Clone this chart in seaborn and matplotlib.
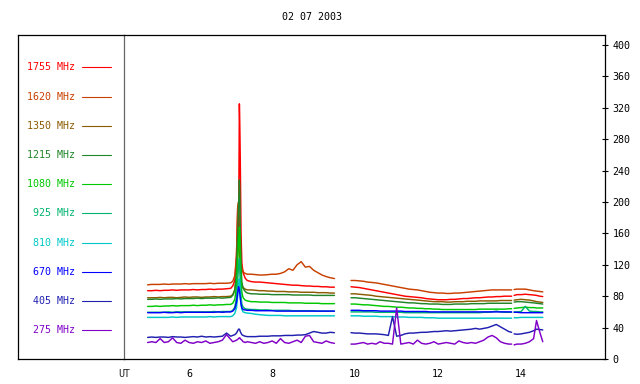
"""Solar radio flux at ten frequencies, 02 07 2003."""

import matplotlib
matplotlib.use("Agg")
import matplotlib.pyplot as plt  # noqa: E402
import pandas as pd  # noqa: E402
import seaborn as sns  # noqa: E402

DATE_LABEL = "02 07 2003"

FREQS = ["1755 MHz", "1620 MHz", "1350 MHz", "1215 MHz", "1080 MHz",
         "925 MHz", "810 MHz", "670 MHz", "405 MHz", "275 MHz"]
COLORS = ["#ff0000", "#c84000", "#8c5a00", "#208428", "#00c800",
          "#00b46e", "#00c8c8", "#0000ff", "#2020b0", "#8000c8"]

X_TICKS = [6, 8, 10, 12, 14]
Y_TICKS = [0, 40, 80, 120, 160, 200, 240, 280, 320, 360, 400]

# UT hours (gaps in the record after 9.5 and 13.77)
TIME = [
    5.0, 5.1, 5.2, 5.3, 5.4, 5.5, 5.6, 5.7, 5.8, 5.9, 6.0, 6.1, 6.2, 6.3, 6.4,
    6.5, 6.6, 6.7, 6.8, 6.9, 7.0,
    7.05, 7.1, 7.14, 7.17, 7.19, 7.21, 7.22, 7.23, 7.25, 7.27, 7.3, 7.35, 7.4,
    7.5, 7.6, 7.7, 7.8, 7.9, 8.0, 8.1, 8.2, 8.3, 8.4, 8.5, 8.6, 8.7, 8.8, 8.9,
    9.0, 9.1, 9.2, 9.3, 9.4, 9.5,
    9.9, 10.0, 10.1, 10.2, 10.3, 10.4, 10.5, 10.6, 10.7, 10.8, 10.9, 11.0, 11.1,
    11.2, 11.3, 11.4, 11.5, 11.6, 11.7, 11.8, 11.9, 12.0, 12.1, 12.2, 12.3, 12.4,
    12.5, 12.6, 12.7, 12.8, 12.9, 13.0, 13.1, 13.2, 13.3, 13.4, 13.5, 13.6, 13.7,
    13.77,
    13.83, 13.9, 14.0, 14.1, 14.2, 14.3, 14.37, 14.45, 14.52,
]

F1755 = [
    87, 87, 87.5, 87, 87.5, 87.5, 88, 87.5, 88, 88, 88, 88.5, 88, 88.5, 88.5,
    89, 88.5, 89, 89, 89.5, 90,
    93, 100, 130, 192, 150, 325, 300, 262, 160, 122, 110, 103, 100,
    98.5, 98, 98, 97.5, 97, 96.5, 96, 95.5, 95, 94.5, 94, 94, 93.5, 93, 93,
    92.5, 92.5, 92, 92, 91.5, 91.5,
    92, 91.5, 91, 90, 89, 88, 87, 86, 85, 84, 83, 82, 81, 80, 79.5, 79, 78.5,
    78, 77, 76.5, 76, 75.5, 75.5, 75.5, 76, 76, 76.5, 77, 77, 77.5, 78, 78,
    78.5, 79, 79, 79.5, 79.5, 80, 80, 80,
    81, 82, 82, 82.5, 82, 81.5, 81, 80, 79.5,
]
F1620 = [
    94.5, 95, 95, 95, 95.5, 95, 95.5, 95.5, 95.5, 96, 95.5, 96, 96, 96, 96,
    96.5, 96, 96.5, 96.5, 96.5, 97,
    99, 106, 132, 195, 200, 182, 162, 142, 126, 116, 111, 109, 108,
    108, 107.5, 107, 107, 107.5, 108, 108, 109, 111, 115, 113, 120, 124, 117,
    118, 113, 110, 107, 105, 103.5, 102.5,
    100, 100, 99.5, 99, 98, 97.5, 97, 96, 95, 94, 93, 92, 91, 90, 89, 88.5, 88,
    87, 86, 85, 84.5, 84, 84, 83.5, 83.5, 84, 84, 84.5, 85, 85.5, 86, 86.5, 87,
    87.5, 88, 88, 88, 88, 88, 88,
    88.5, 89, 89, 89, 88, 87, 86.5, 86, 85.5,
]
F1350 = [
    78, 78, 78, 78.5, 78, 78.5, 78.5, 78, 78.5, 79, 78.5, 79, 79, 78.5, 79,
    79, 79.5, 79, 79.5, 79.5, 80,
    82, 88, 105, 140, 150, 135, 125, 112, 100, 94, 91, 89, 88,
    88, 87.5, 87, 87, 86.5, 86.5, 86, 86, 86, 85.5, 85.5, 85.5, 85, 85, 85,
    85, 84.5, 84.5, 84.5, 84, 84,
    83, 83, 82.5, 82, 81.5, 81, 80, 79.5, 79, 78.5, 78, 77.5, 77, 76.5, 76,
    75.5, 75, 74.5, 74, 73.5, 73, 73, 73, 72.5, 72.5, 73, 73, 73, 73.5, 73.5,
    73.5, 74, 74, 74, 74, 74, 74.5, 74.5, 74.5, 74.5,
    75, 75.5, 76, 75.5, 75, 74, 73, 72.5, 72,
]
F1215 = [
    76, 76, 76.5, 76, 76.5, 76.5, 76.5, 77, 76.5, 77, 77, 77, 77.5, 77, 77.5,
    77.5, 77.5, 78, 77.5, 78, 78.5,
    81, 88, 110, 160, 195, 228, 215, 170, 120, 98, 90, 86, 84,
    83, 83, 82.5, 82.5, 82.5, 82, 82, 82, 82, 82, 81.5, 81.5, 81.5, 81.5, 81.5,
    81, 81, 81, 81, 81, 81,
    78, 78, 77.5, 77, 76.5, 76, 75.5, 75, 74.5, 74, 73.5, 73, 72.5, 72, 71.5,
    71.5, 71, 70.5, 70.5, 70, 70, 70, 69.5, 69.5, 69.5, 70, 70, 70, 70, 70.5,
    70.5, 70.5, 70.5, 71, 71, 71, 71, 71, 71, 71,
    72.5, 73, 73, 72.5, 72, 71.5, 71, 70.5, 70,
]
F1080 = [
    67, 67, 67.5, 67, 67.5, 67.5, 68, 67.5, 68, 68, 68, 68.5, 68, 68.5, 68.5,
    69, 68.5, 69, 69, 69.5, 69.5,
    71, 76, 92, 125, 150, 168, 160, 130, 100, 85, 78, 75, 74,
    73, 73, 72.5, 72.5, 72.5, 72, 72, 72, 72, 71.5, 71.5, 71.5, 71.5, 71, 71,
    71, 71, 70.5, 70.5, 70.5, 70.5,
    70, 70, 69.5, 69, 69, 68.5, 68, 67.5, 67, 67, 66.5, 66, 66, 65.5, 65, 65,
    64.5, 64.5, 64, 64, 63.5, 63.5, 63, 63, 63, 63, 63, 63, 63, 63, 63, 63.5,
    63.5, 63.5, 63.5, 63.5, 63.5, 63.5, 64, 64,
    64.5, 65, 65.5, 66, 65.5, 65.5, 65, 65, 65,
]
F925 = [
    59.5, 59.5, 59.5, 59.5, 59.5, 60, 59.5, 60, 60, 60, 60, 60, 60, 60, 60,
    60, 60.5, 60, 60.5, 60.5, 60.5,
    62, 66, 78, 100, 118, 128, 120, 100, 80, 70, 66, 64, 63.5,
    63, 63, 62.5, 62.5, 62.5, 62, 62, 62, 62, 62, 61.5, 61.5, 61.5, 61.5, 61.5,
    61.5, 61, 61, 61, 61, 61,
    60, 60, 60, 60, 60, 60, 59.5, 59.5, 59.5, 59.5, 59.5, 59.5, 59.5, 59, 59,
    59, 59, 59, 59, 59, 59, 59, 59, 59, 59, 59, 59, 59, 59, 59, 59, 59, 59.5,
    59.5, 60, 61, 60, 59.5, 59.5, 59.5,
    60, 60, 60.5, 67, 61, 60.5, 60.5, 60, 60,
]
F810 = [
    53, 53, 53, 53, 53, 53, 53.5, 53, 53.5, 53.5, 53.5, 53.5, 53.5, 53.5, 53.5,
    54, 53.5, 54, 54, 54, 54,
    55, 58, 65, 80, 95, 102, 96, 85, 70, 63, 60, 59, 58.5,
    58, 57, 56.5, 56, 55.5, 55.5, 55.5, 55.5, 55, 55, 55, 55, 55, 55, 55, 55,
    55, 55, 55, 55, 55,
    55, 55, 55, 54.5, 54.5, 54.5, 54.5, 54, 54, 54, 54, 53.5, 53.5, 53.5, 53,
    53, 53, 53, 52.5, 52.5, 52.5, 52, 52, 52, 52, 52, 52, 52, 52, 52, 52, 52,
    52, 52, 52, 52, 52, 52, 52, 52,
    52.5, 52.5, 53, 53, 53, 53, 53, 53, 53,
]
F670 = [
    59, 59, 59, 59, 59.5, 59, 59, 59.5, 59, 59.5, 59.5, 59.5, 59.5, 59.5, 59.5,
    59.5, 59.5, 60, 59.5, 60, 60,
    61, 64, 72, 85, 92, 88, 84, 78, 70, 65, 63, 62.5, 62,
    62, 61.5, 61.5, 61.5, 61.5, 61.5, 61, 61, 61, 61, 61, 61, 61, 61, 61, 61,
    61, 61, 61, 61, 61,
    62, 62, 62, 61.5, 61.5, 61.5, 61.5, 61, 61, 61, 61, 61, 61, 60.5, 60.5,
    60.5, 60.5, 60.5, 60.5, 60, 60, 60, 60, 60, 60, 60, 60, 60, 60, 60, 60, 60,
    60, 60, 60, 60, 60, 60, 60, 60,
    59.5, 59.5, 59, 59, 59, 59, 59, 59, 59,
]
F405 = [
    27.5, 28, 27.5, 28, 28, 27.5, 28.5, 28, 28, 27.5, 28, 28.5, 28, 29, 28,
    28.5, 28, 28.5, 29, 33, 29,
    30, 31, 33, 36, 38, 38, 37, 35, 33, 31, 30, 29, 28.5,
    28.5, 28.5, 29, 29, 29, 29.5, 29.5, 29.5, 30, 30, 30, 30.5, 30.5, 31, 33,
    35, 34, 33, 33, 34, 33.5,
    33.5, 33, 33, 32.5, 32, 32, 32, 31.5, 31, 30, 54, 29, 30, 32, 33, 33, 33.5,
    34, 34, 34.5, 35, 35, 35.5, 36, 35.5, 36, 36.5, 37, 37.5, 38, 39, 38, 39,
    40, 42, 44, 41, 38, 35, 34,
    32, 31.5, 32, 33, 34, 36, 38, 37.5, 37,
]
F275 = [
    21, 22, 21, 26, 21, 22, 27, 21, 20, 24, 21, 20, 22, 21, 23, 20, 21, 22, 24,
    31, 25,
    22, 23, 24, 25, 26, 27, 27, 26, 25, 24, 22, 21, 22,
    21, 20, 22, 20, 21, 23, 20, 26, 21, 20, 22, 24, 21, 29, 30, 22, 21, 20, 23,
    21, 20,
    19, 19, 20, 21, 19, 20, 19, 22, 20, 20, 19, 65, 19, 20, 21, 19, 24, 20, 19,
    20, 22, 19, 20, 21, 20, 19, 23, 21, 20, 21, 20, 22, 24, 28, 30, 27, 22, 20,
    19, 19,
    18, 19, 19, 20, 22, 26, 49, 34, 22,
]

SERIES = dict(zip(FREQS, [F1755, F1620, F1350, F1215, F1080,
                          F925, F810, F670, F405, F275]))


def segment_of(t):
    if t < 9.7:
        return 0
    if t < 13.8:
        return 1
    return 2


rows = []
for name, vals in SERIES.items():
    for t, v in zip(TIME, vals):
        rows.append((t, v, name, segment_of(t)))
df = pd.DataFrame(rows, columns=["ut", "flux", "freq", "segment"])

sns.set_style("white")
plt.rcParams["font.family"] = ["DejaVu Sans Mono"]
plt.rcParams["font.size"] = 7.2

W, H = 640, 384
fig = plt.figure(figsize=(W / 100, H / 100), dpi=100)
bottom = 1 - 359 / H
height = 324 / H
ax_leg = fig.add_axes([18 / W, bottom, 106 / W, height])
ax = fig.add_axes([124 / W, bottom, 481 / W, height])

sns.lineplot(
    data=df, x="ut", y="flux", hue="freq", hue_order=FREQS,
    palette=dict(zip(FREQS, COLORS)), units="segment", estimator=None,
    sort=False, legend=False, linewidth=1.05, ax=ax,
)
ax.set_xlim(4.43, 16.02)
ax.set_ylim(0, 412.7)
ax.set_xticks(X_TICKS)
ax.set_yticks(Y_TICKS)
ax.yaxis.tick_right()
ax.tick_params(axis="y", direction="inout", length=5, width=0.8, pad=3,
               colors="black", labelsize=7.2)
ax.tick_params(axis="x", direction="in", length=4, width=0.8, pad=7,
               colors="black", labelsize=7.2)
ax.set_xlabel("")
ax.set_ylabel("")
for side in ["top", "right", "bottom"]:
    ax.spines[side].set_color("black")
    ax.spines[side].set_linewidth(0.9)
ax.spines["left"].set_color("#666666")
ax.spines["left"].set_linewidth(0.9)
ax.text(0, -10 / 324, "UT", transform=ax.transAxes, ha="center", va="top")

# legend panel on the left
ax_leg.set_xlim(18, 124)
ax_leg.set_ylim(359, 35)
ax_leg.set_xticks([])
ax_leg.set_yticks([])
for side in ["top", "left", "bottom"]:
    ax_leg.spines[side].set_color("black")
    ax_leg.spines[side].set_linewidth(0.9)
ax_leg.spines["right"].set_visible(False)
for i, (name, color) in enumerate(zip(FREQS, COLORS)):
    y = 67.3 + 29.2 * i
    ax_leg.plot([82, 111], [y, y], color=color, linewidth=0.8)
    ax_leg.text(75, y, name, color=color, ha="right", va="center")

fig.text(311.5 / W, 1 - 17 / H, DATE_LABEL, ha="center", va="center",
         color="black")

fig.savefig("out.png", dpi=100)
plt.close(fig)
